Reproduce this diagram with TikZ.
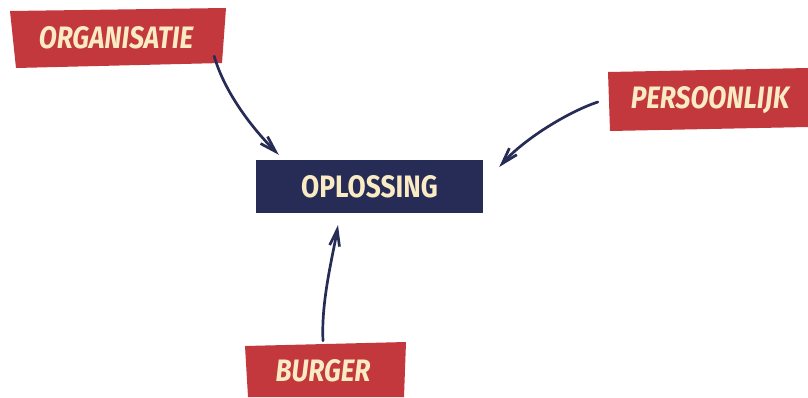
\documentclass[tikz,border=0pt]{standalone}
\usepackage{fontspec}
\setmainfont{Fira Sans}
\newfontfamily\tagfont{Fira Sans}[FakeStretch=0.85]
\usetikzlibrary{arrows.meta,calc,positioning}
\definecolor{tagred}{HTML}{C2383D}
\definecolor{navy}{HTML}{262C55}
\definecolor{cream}{HTML}{FAEBC4}

\begin{document}
\begin{tikzpicture}[x=1pt,y=-1pt,>={Straight Barb[angle=34:17pt]},
	tag/.style={text=cream,font=\tagfont\fontsize{31}{31}\selectfont\bfseries\itshape,inner sep=0pt},
	sol/.style={fill=navy,text=cream,font=\tagfont\fontsize{31}{31}\selectfont\bfseries,minimum width=227pt,minimum height=53pt,inner sep=0pt},
	link/.style={->,draw=navy,line width=2.7pt,line cap=round}]
	\useasboundingbox (0,0) rectangle (808,397);
	% skewed label strips
	\fill[tagred] (10,11) -- (226,8) -- (222,63) -- (16,68) -- cycle;
	\fill[tagred] (608,72) -- (808,68) -- (808,127) -- (610,131) -- cycle;
	\fill[tagred] (245,346) -- (406,342) -- (404,397) -- (248,397) -- cycle;
	\node[tag,minimum width=212pt,minimum height=57pt] (organisatie) at (116,38) {ORGANISATIE};
	\node[tag,minimum width=200pt,minimum height=60pt] (persoonlijk) at (710,100) {PERSOONLIJK};
	\node[tag,minimum width=160pt,minimum height=54pt] (burger) at (323,371) {BURGER};
	\node[sol] (oplossing) at (369.5,186.5) {OPLOSSING};
	\draw[link] ([shift={(-8,-10.5)}]organisatie.south east) .. controls +(10,35) and +(-28,-28) .. ([shift={(23,-5)}]oplossing.north west);
	\draw[link] ([shift={(-12,2)}]persoonlijk.west) .. controls +(-30,10) and +(25,-28) .. ([shift={(16,-19.5)}]oplossing.east);
	\draw[link] ([shift={(-0,-3)}]burger.north) .. controls +(-2,-40) and +(-5,30) .. ([shift={(-31.5,12)}]oplossing.south);
\end{tikzpicture}
\end{document}
